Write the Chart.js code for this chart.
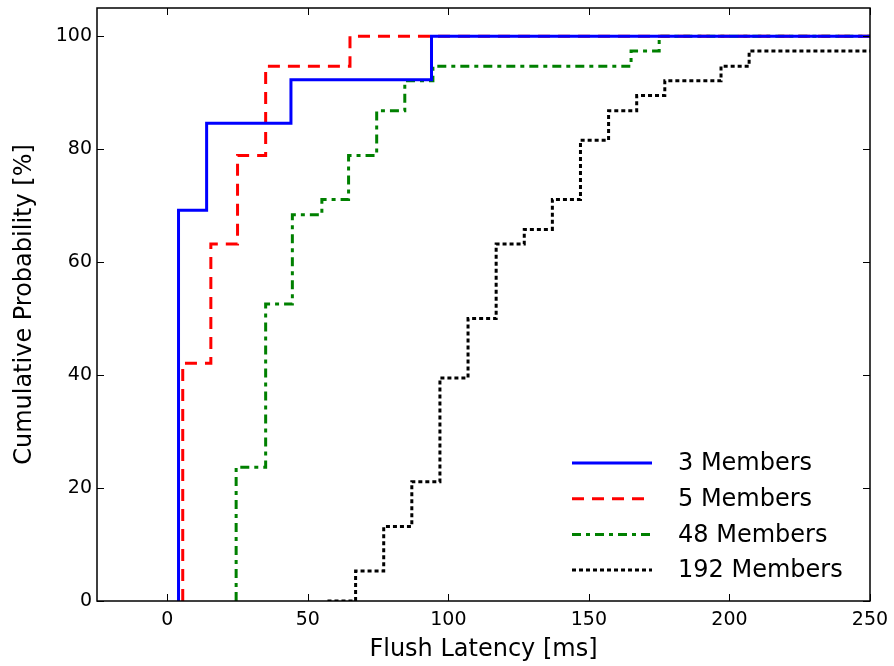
<!DOCTYPE html>
<html>
<head>
<meta charset="utf-8">
<title>Flush Latency CDF</title>
<script src="https://cdn.jsdelivr.net/npm/chart.js@4.4.0/dist/chart.umd.min.js"></script>
<style>
  body { margin: 0; background: #fff; }
  #wrap { width: 894px; height: 666px; }
</style>
</head>
<body>
<div id="wrap"><canvas id="cdfChart" width="894" height="666"></canvas></div>
<script>
// Data: step positions in ms and cumulative probability in %
const seriesLabels = ['3 Members', '5 Members', '48 Members', '192 Members'];

const members3X = [4, 4, 14, 44, 94, 250];
const members3Y = [0, 69.2, 84.6, 92.3, 100, 100];

const members5X = [5.5, 5.5, 15.5, 25, 35, 65, 250];
const members5Y = [0, 42.1, 63.2, 78.9, 94.7, 100, 100];

const members48X = [24.5, 24.5, 35, 44.5, 55, 64.5, 74.5, 84.5, 94.5, 165, 175, 250];
const members48Y = [0, 23.7, 52.6, 68.4, 71.1, 78.9, 86.8, 92.1, 94.7, 97.4, 100, 100];

const members192X = [57, 67, 77, 87, 97, 107, 117, 127, 137, 147, 157, 167, 177, 197, 207, 250];
const members192Y = [0, 5.3, 13.2, 21.1, 39.5, 50, 63.2, 65.8, 71.1, 81.6, 86.8, 89.5, 92.1, 94.7, 97.4, 97.4];

const xTicks = [0, 50, 100, 150, 200, 250];
const yTicks = [0, 20, 40, 60, 80, 100];

// Helper to zip x and y arrays into point objects
function toPoints(xs, ys) {
  return xs.map((x, i) => ({ x: x, y: ys[i] }));
}

// Box around the plot area with inward tick marks (matplotlib look)
const framePlugin = {
  id: 'frame',
  afterDraw(chart) {
    const { ctx, chartArea: a, scales } = chart;
    const len = 7;
    ctx.save();
    ctx.strokeStyle = '#000';
    ctx.lineWidth = 1;
    ctx.beginPath();
    scales.x.ticks.forEach(t => {
      const px = Math.round(scales.x.getPixelForValue(t.value)) + 0.5;
      ctx.moveTo(px, a.bottom); ctx.lineTo(px, a.bottom - len);
      ctx.moveTo(px, a.top); ctx.lineTo(px, a.top + len);
    });
    scales.y.ticks.forEach(t => {
      const py = Math.round(scales.y.getPixelForValue(t.value)) + 0.5;
      ctx.moveTo(a.left, py); ctx.lineTo(a.left + len, py);
      ctx.moveTo(a.right, py); ctx.lineTo(a.right - len, py);
    });
    ctx.stroke();
    ctx.lineWidth = 1.5;
    ctx.strokeRect(a.left, a.top, a.right - a.left, a.bottom - a.top);
    ctx.restore();
  }
};

// Legend in the lower right corner, no frame, long line samples
const legendPlugin = {
  id: 'cornerLegend',
  afterDraw(chart) {
    const { ctx, chartArea: a } = chart;
    ctx.save();
    ctx.font = '24px "DejaVu Sans"';
    ctx.textBaseline = 'middle';
    ctx.fillStyle = '#000';
    chart.data.datasets.forEach((ds, i) => {
      const y = a.bottom - 138 + i * 35.7;
      ctx.strokeStyle = ds.borderColor;
      ctx.lineWidth = ds.borderWidth;
      ctx.setLineDash(ds.borderDash || []);
      ctx.beginPath();
      ctx.moveTo(a.right - 298, y);
      ctx.lineTo(a.right - 218, y);
      ctx.stroke();
      ctx.setLineDash([]);
      ctx.fillText(ds.label, a.right - 192, y + 1);
    });
    ctx.restore();
  }
};

function makeDataset(label, xs, ys, color, dash) {
  return {
    label: label,
    data: toPoints(xs, ys),
    borderColor: color,
    backgroundColor: color,
    borderWidth: 3,
    borderDash: dash,
    borderCapStyle: 'butt',
    stepped: 'before',
    pointRadius: 0,
    fill: false
  };
}

const tickFont = { family: '"DejaVu Sans"', size: 19 };
const titleFont = { family: '"DejaVu Sans"', size: 24 };

const ctx = document.getElementById('cdfChart').getContext('2d');
const chart = new Chart(ctx, {
  type: 'line',
  data: {
    datasets: [
      makeDataset(seriesLabels[0], members3X, members3Y, '#0000ff', []),
      makeDataset(seriesLabels[1], members5X, members5Y, '#ff0000', [12, 8]),
      makeDataset(seriesLabels[2], members48X, members48Y, '#008000', [9, 5, 4, 5]),
      makeDataset(seriesLabels[3], members192X, members192Y, '#000000', [4, 3])
    ]
  },
  options: {
    responsive: false,
    animation: false,
    layout: { padding: { left: 0, right: 24, top: 8, bottom: 0 } },
    plugins: {
      legend: { display: false },
      tooltip: { enabled: false }
    },
    scales: {
      x: {
        type: 'linear',
        min: -25,
        max: 250,
        afterBuildTicks: scale => { scale.ticks = xTicks.map(v => ({ value: v })); },
        afterFit: scale => {
          scale.height = 65;
          scale.paddingLeft = 0;
          scale.paddingRight = 0;
        },
        grid: { display: false, drawTicks: false },
        border: { display: false },
        ticks: { color: '#000', font: tickFont, padding: 8, maxRotation: 0 },
        title: {
          display: true,
          text: 'Flush Latency [ms]',
          color: '#000',
          font: titleFont,
          padding: { top: 0, bottom: 2 }
        }
      },
      y: {
        min: 0,
        max: 105,
        afterBuildTicks: scale => { scale.ticks = yTicks.map(v => ({ value: v })); },
        afterFit: scale => {
          scale.width = 97;
          scale.paddingTop = 0;
          scale.paddingBottom = 0;
        },
        grid: { display: false, drawTicks: false },
        border: { display: false },
        ticks: { color: '#000', font: tickFont, padding: 5 },
        title: {
          display: true,
          text: 'Cumulative Probability [%]',
          color: '#000',
          font: titleFont,
          padding: { top: 10, bottom: 0 }
        }
      }
    }
  },
  plugins: [framePlugin, legendPlugin]
});
</script>
</body>
</html>
